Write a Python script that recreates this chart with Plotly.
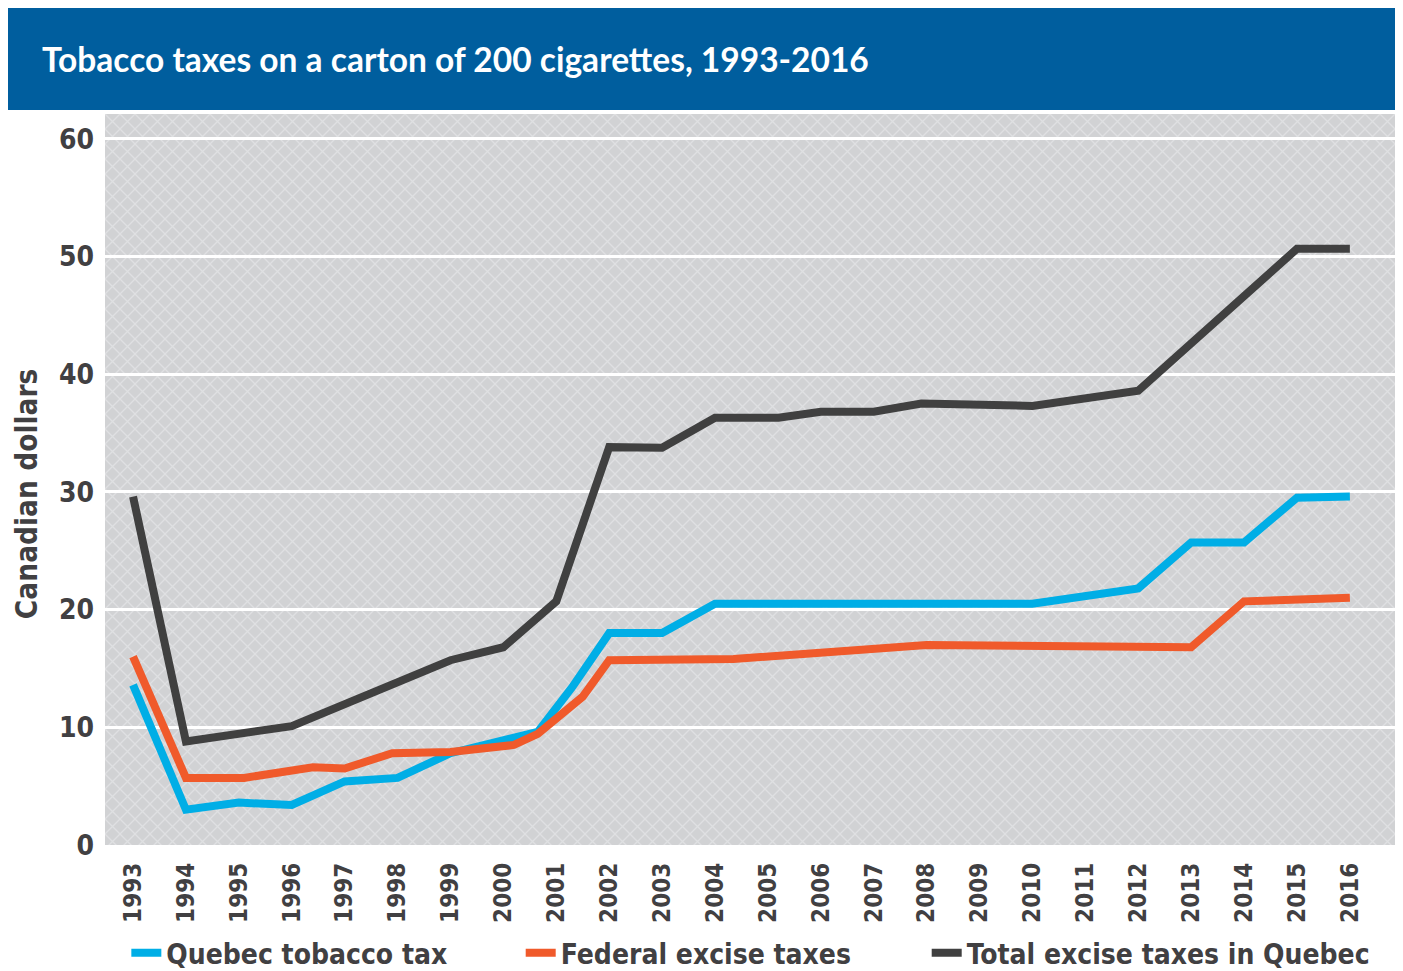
import base64
import plotly.graph_objects as go

# --- data (Canadian dollars per carton of 200) ---
quebec_x = [1993, 1994, 1995, 1996, 1997, 1998, 1999, 2000.65, 2001.3, 2002,
            2003, 2004, 2010, 2012, 2013, 2014, 2015, 2016]
quebec_y = [13.6, 3.0, 3.6, 3.4, 5.4, 5.7, 7.8, 9.6, 13.4, 18.0,
            18.0, 20.5, 20.5, 21.8, 25.7, 25.7, 29.5, 29.6]

federal_x = [1993, 1994, 1995.1, 1996.4, 1997, 1997.9, 1999, 2000.2, 2000.65,
             2001.5, 2002, 2004.35, 2008, 2013, 2014, 2016]
federal_y = [16.0, 5.7, 5.7, 6.6, 6.5, 7.8, 7.9, 8.5, 9.45,
             12.6, 15.7, 15.8, 17.0, 16.8, 20.7, 21.0]

total_x = [1993, 1994, 1996, 1999, 2000, 2001, 2002, 2003, 2004, 2005.2,
           2006, 2007, 2007.9, 2010, 2012, 2015, 2016]
total_y = [29.6, 8.8, 10.1, 15.7, 16.8, 20.7, 33.8, 33.75, 36.3, 36.3,
           36.8, 36.8, 37.5, 37.3, 38.6, 50.65, 50.65]

years = list(range(1993, 2017))
y_ticks = [0, 10, 20, 30, 40, 50, 60]

title = "Tobacco taxes on a carton of 200 cigarettes, 1993-2016"
y_title = "Canadian dollars"

x_range = [1992.47, 2016.91]
y_range = [0, 62.1]

TEXT = "#414042"
COND = "Liberation Sans Narrow, DejaVu Sans Condensed, Arial Narrow, sans-serif"

# cross-hatch texture for the plot background (svg data uri, no network)
hatch_svg = (
    '<svg xmlns="http://www.w3.org/2000/svg" width="1293" height="731">'
    '<defs><pattern id="p" width="15" height="15" patternUnits="userSpaceOnUse">'
    '<path d="M0,0 L15,15 M15,0 L0,15" stroke="#dfe0e2" stroke-width="1.3"/>'
    '</pattern></defs><rect width="1293" height="731" fill="url(#p)"/></svg>'
)
hatch_uri = "data:image/svg+xml;base64," + base64.b64encode(hatch_svg.encode()).decode()

fig = go.Figure()
fig.add_trace(go.Scatter(x=quebec_x, y=quebec_y, mode="lines", name="Quebec tobacco tax",
                         line=dict(color="#00aee6", width=8), hoverinfo="x+y", legend="legend"))
fig.add_trace(go.Scatter(x=federal_x, y=federal_y, mode="lines", name="Federal excise taxes",
                         line=dict(color="#f05a2b", width=8), hoverinfo="x+y", legend="legend2"))
fig.add_trace(go.Scatter(x=total_x, y=total_y, mode="lines", name="Total excise taxes in Quebec",
                         line=dict(color="#404040", width=8), hoverinfo="x+y", legend="legend3"))

legend_font = dict(family=COND, size=28, color=TEXT, weight="bold")


def bottom_legend(x):
    return dict(orientation="h", x=x, xanchor="left", y=0.0187, yref="container",
                yanchor="middle", font=legend_font, bgcolor="rgba(0,0,0,0)")


# page body has an 8px margin, so the figure is 8px smaller than the window
fig.update_layout(
    width=1395, height=963,
    margin=dict(l=97, r=5, t=106, b=126),
    paper_bgcolor="white",
    plot_bgcolor="#d1d2d4",
    showlegend=True,
    legend=bottom_legend(0.0165),
    legend2=bottom_legend(0.3215),
    legend3=bottom_legend(0.6355),
    xaxis=dict(range=x_range, tickmode="array", tickvals=years, ticktext=[str(y) for y in years],
               tickangle=-90, showgrid=False, zeroline=False, showline=False, ticks="",
               ticklabelstandoff=12, automargin=False,
               tickfont=dict(family=COND, size=24, color=TEXT, weight="bold")),
    yaxis=dict(range=y_range, tickvals=y_ticks, showgrid=True, gridcolor="white", gridwidth=3,
               zeroline=False, showline=False, ticks="", ticklabelstandoff=10, automargin=False,
               tickfont=dict(family=COND, size=28, color=TEXT, weight="bold")),
    shapes=[dict(type="rect", xref="paper", yref="paper", x0=-0.0758, x1=1.0, y0=1.0055, y1=1.146,
                 fillcolor="#005e9e", line=dict(width=0), layer="above")],
    annotations=[
        dict(text=title, xref="paper", yref="paper", x=-0.0503, y=1.075,
             xanchor="left", yanchor="middle", showarrow=False,
             font=dict(family="Lato, Open Sans, sans-serif", size=33.5, color="white",
                       weight="bold")),
        dict(text=y_title, xref="paper", yref="paper", x=-0.0603, y=0.48, textangle=-90,
             xanchor="center", yanchor="middle", showarrow=False,
             font=dict(family=COND, size=29.5, color=TEXT, weight="bold")),
    ],
    images=[dict(source=hatch_uri, xref="x", yref="y", x=x_range[0], y=y_range[1],
                 sizex=x_range[1] - x_range[0], sizey=y_range[1] - y_range[0],
                 sizing="stretch", xanchor="left", yanchor="top", layer="below")],
)

fig.write_html("out.html")
